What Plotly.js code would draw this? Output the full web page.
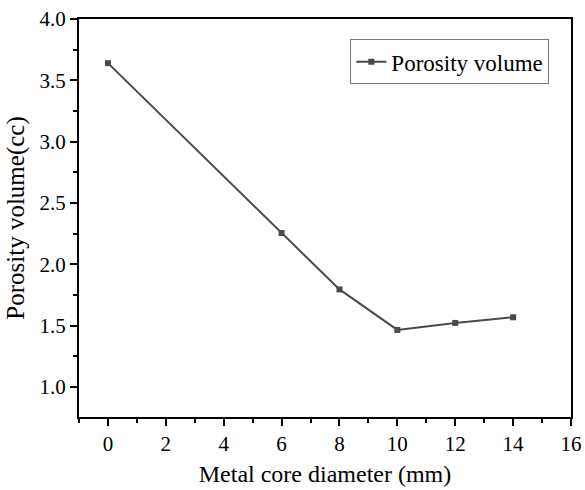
<!DOCTYPE html>
<html>
<head>
<meta charset="utf-8">
<script src="https://cdn.plot.ly/plotly-3.0.1.min.js"></script>
<style>
html,body{margin:0;padding:0;background:#fff;}
#chart{width:585px;height:490px;}
#chart .xtick text, #chart .ytick text {
  font-family: "Liberation Serif", serif !important;
  font-size: 21px !important;
  fill: #000 !important;
}
</style>
</head>
<body>
<div id="chart"></div>
<script>
const diameters = [0, 6, 8, 10, 12, 14];
const porosityVolume = [3.64, 2.255, 1.795, 1.465, 1.522, 1.568];
const seriesName = 'Porosity volume';
const xTickVals = [0, 2, 4, 6, 8, 10, 12, 14, 16];
const yTickVals = [1.0, 1.5, 2.0, 2.5, 3.0, 3.5, 4.0];

const font = 'Liberation Serif';

const trace = {
  x: diameters,
  y: porosityVolume,
  name: seriesName,
  type: 'scatter',
  mode: 'lines+markers',
  line: {color: '#4a4a4a', width: 2},
  marker: {symbol: 'square', size: 6, color: '#4a4a4a'},
  showlegend: true
};

const layout = {
  width: 585, height: 490,
  margin: {l: 79, r: 14, t: 19, b: 73},
  paper_bgcolor: '#fff', plot_bgcolor: '#fff',
  font: {family: font, color: '#000', size: 21},
  showlegend: true,
  legend: {
    x: 0.956, y: 0.949, xanchor: 'right', yanchor: 'top',
    bordercolor: '#777', borderwidth: 1, bgcolor: '#fff',
    font: {family: font, size: 23, color: '#000'}
  },
  xaxis: {
    showline: true, linecolor: '#000', linewidth: 2, mirror: true,
    ticks: 'outside', ticklen: 7, tickwidth: 2, tickcolor: '#000',
    showgrid: false, zeroline: false,
    tickfont: {family: font, size: 21, color: '#000'},
    range: [-1, 16], tickmode: 'array', tickvals: xTickVals,
    minor: {ticks: 'outside', ticklen: 4, tickwidth: 2, tickcolor: '#000', dtick: 1, tick0: 1},
    title: {text: 'Metal core diameter (mm)', font: {family: font, size: 24, color: '#000'}, standoff: 10}
  },
  yaxis: {
    showline: true, linecolor: '#000', linewidth: 2, mirror: true,
    ticks: 'outside', ticklen: 7, tickwidth: 2, tickcolor: '#000',
    showgrid: false, zeroline: false,
    tickfont: {family: font, size: 21, color: '#000'},
    range: [0.755, 4.0], tickmode: 'array', tickvals: yTickVals, tickformat: '.1f',
    minor: {ticks: 'outside', ticklen: 4, tickwidth: 2, tickcolor: '#000', dtick: 0.25, tick0: 0.75},
    title: {text: 'Porosity volume(cc)', font: {family: font, size: 25, color: '#000'}, standoff: 8}
  }
};

Plotly.newPlot('chart', [trace], layout, {displayModeBar: false, staticPlot: true});
</script>
</body>
</html>
